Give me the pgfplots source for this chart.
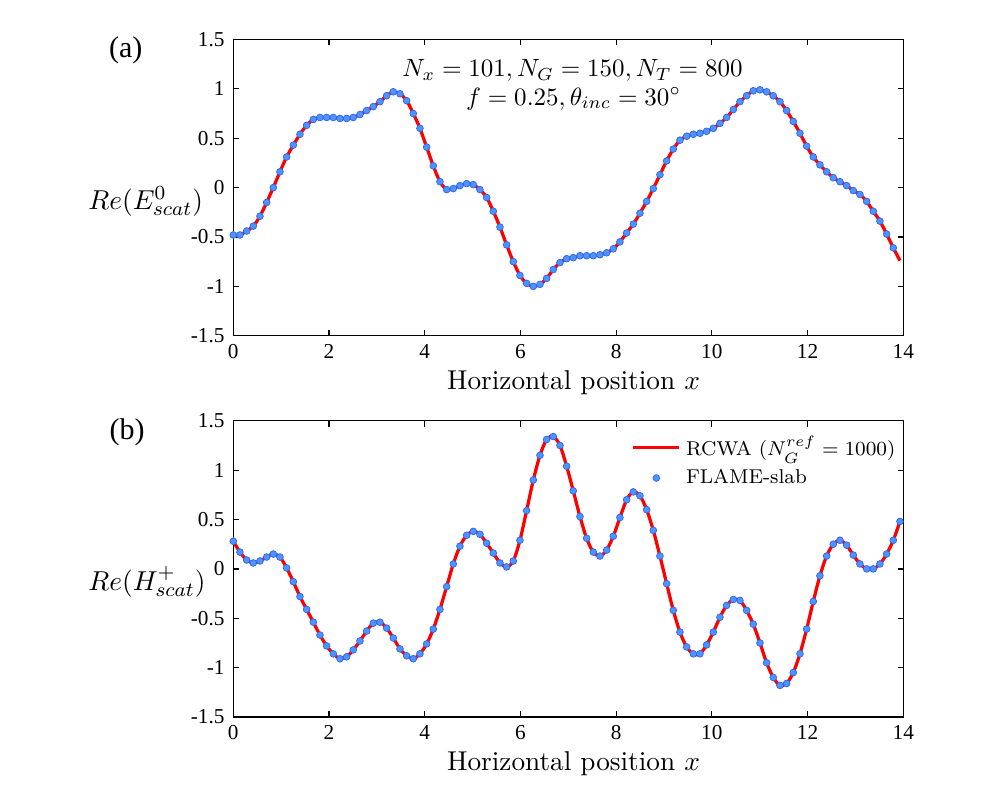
\documentclass[border=0pt]{standalone}
\usepackage{fontspec}
\usepackage{pgfplots}
\pgfplotsset{compat=1.18}
\usepackage{pgfplotstable}
\newfontfamily\timesfont{Liberation Serif}
\definecolor{dotfill}{RGB}{77,148,255}
\definecolor{dotdraw}{RGB}{51,102,240}

\pgfplotstableread{
x y
0.000 -0.48
0.139 -0.48
0.279 -0.44
0.418 -0.39
0.557 -0.29
0.697 -0.15
0.836 0.00
0.975 0.16
1.114 0.31
1.254 0.43
1.393 0.54
1.532 0.63
1.672 0.69
1.811 0.71
1.950 0.71
2.090 0.71
2.229 0.70
2.368 0.70
2.507 0.71
2.647 0.74
2.786 0.78
2.925 0.82
3.065 0.87
3.204 0.93
3.343 0.97
3.483 0.95
3.622 0.88
3.761 0.75
3.900 0.60
4.040 0.41
4.179 0.22
4.318 0.06
4.458 -0.02
4.597 -0.01
4.736 0.02
4.876 0.04
5.015 0.03
5.154 -0.02
5.293 -0.10
5.433 -0.24
5.572 -0.40
5.711 -0.58
5.851 -0.75
5.990 -0.89
6.129 -0.97
6.269 -1.00
6.408 -0.98
6.547 -0.92
6.686 -0.83
6.826 -0.76
6.965 -0.72
7.104 -0.71
7.244 -0.69
7.383 -0.69
7.522 -0.69
7.662 -0.68
7.801 -0.66
7.940 -0.62
8.079 -0.55
8.219 -0.46
8.358 -0.37
8.497 -0.26
8.637 -0.14
8.776 -0.01
8.915 0.13
9.055 0.27
9.194 0.39
9.333 0.48
9.472 0.52
9.612 0.54
9.751 0.55
9.890 0.57
10.030 0.60
10.169 0.65
10.308 0.71
10.448 0.79
10.587 0.87
10.726 0.93
10.865 0.98
11.005 0.99
11.144 0.97
11.283 0.93
11.423 0.87
11.562 0.78
11.701 0.67
11.841 0.55
11.980 0.42
12.119 0.31
12.258 0.23
12.398 0.16
12.537 0.10
12.676 0.06
12.816 0.02
12.955 -0.03
13.094 -0.07
13.234 -0.14
13.373 -0.24
13.512 -0.34
13.651 -0.47
13.791 -0.61
13.930 -0.74
}\toptable

\pgfplotstableread{
x y
0.000 0.28
0.139 0.17
0.279 0.09
0.418 0.06
0.557 0.08
0.697 0.12
0.836 0.15
0.975 0.12
1.114 0.01
1.254 -0.13
1.393 -0.28
1.532 -0.41
1.672 -0.54
1.811 -0.67
1.950 -0.78
2.090 -0.86
2.229 -0.91
2.368 -0.89
2.507 -0.82
2.647 -0.73
2.786 -0.63
2.925 -0.55
3.065 -0.54
3.204 -0.60
3.343 -0.70
3.483 -0.81
3.622 -0.88
3.761 -0.91
3.900 -0.86
4.040 -0.76
4.179 -0.61
4.318 -0.41
4.458 -0.18
4.597 0.05
4.736 0.23
4.876 0.34
5.015 0.38
5.154 0.35
5.293 0.26
5.433 0.16
5.572 0.06
5.711 0.02
5.851 0.08
5.990 0.29
6.129 0.59
6.269 0.90
6.408 1.15
6.547 1.31
6.686 1.34
6.826 1.25
6.965 1.04
7.104 0.79
7.244 0.53
7.383 0.31
7.522 0.17
7.662 0.13
7.801 0.19
7.940 0.33
8.079 0.52
8.219 0.70
8.358 0.78
8.497 0.74
8.637 0.60
8.776 0.39
8.915 0.13
9.055 -0.15
9.194 -0.42
9.333 -0.64
9.472 -0.79
9.612 -0.86
9.751 -0.86
9.890 -0.77
10.030 -0.64
10.169 -0.49
10.308 -0.37
10.448 -0.31
10.587 -0.32
10.726 -0.42
10.865 -0.56
11.005 -0.75
11.144 -0.95
11.283 -1.10
11.423 -1.18
11.562 -1.16
11.701 -1.05
11.841 -0.86
11.980 -0.61
12.119 -0.33
12.258 -0.07
12.398 0.13
12.537 0.25
12.676 0.29
12.816 0.24
12.955 0.14
13.094 0.05
13.234 0.00
13.373 0.00
13.512 0.05
13.651 0.15
13.791 0.29
13.930 0.48
}\bottable

\pgfplotsset{
  lineleg/.style={legend image code/.code={\draw[##1] (0cm,0cm) -- (0.65cm,0cm);}},
  dotleg/.style={legend image code/.code={\draw[##1] plot coordinates {(0.325cm,0cm)};}},
  myax/.style={
  scale only axis, width=268pt, height=118.5pt,
  xmin=0, xmax=14, ymin=-1.5, ymax=1.5,
  xtick={0,2,...,14}, ytick={-1.5,-1,-0.5,0,0.5,1,1.5},
  tick align=inside, major tick length=2.3pt,
  xtick pos=both, ytick pos=both,
  xticklabel pos=bottom, yticklabel pos=left,
  ticklabel style={font=\timesfont\fontsize{8.5}{10}\selectfont},
  /pgf/number format/assume math mode=true,
  axis line style={line width=0.5pt, black},
  every tick/.style={black, line width=0.5pt},
  },
  redline/.style={red, line width=1.3pt, smooth, no markers},
  bluedots/.style={only marks, mark=*, mark size=1.35pt,
     mark options={fill=dotfill, draw=dotdraw, line width=0.3pt}},
}

\begin{document}
\begin{tikzpicture}
\path (0,0) rectangle (400pt,-324pt);

\begin{axis}[myax, at={(93.32pt,-134.28pt)}, anchor=south west]
\addplot[redline] table[x=x,y=y] {\toptable};
\addplot[bluedots, skip coords between index={100}{101}] table[x=x,y=y] {\toptable};
\end{axis}

\begin{axis}[myax, at={(93.32pt,-286.8pt)}, anchor=south west,
  legend style={at={(rel axis cs:1,1)}, anchor=north east, yshift=-2.8pt,
    draw=none, fill=none,
    font=\fontsize{8}{9.6}\selectfont, row sep=-0.3pt, inner sep=1pt},
  legend cell align=left]
\addplot[redline, lineleg] table[x=x,y=y] {\bottable};
\addlegendentry{RCWA ($N_G^{ref}=1000$)}
\addplot[bluedots, dotleg] table[x=x,y=y] {\bottable};
\addlegendentry{FLAME-slab}
\end{axis}

% panel letters
\node[font=\timesfont\fontsize{12}{14}\selectfont] at (50.3pt,-20pt) {(a)};
\node[font=\timesfont\fontsize{12}{14}\selectfont] at (50.8pt,-172.8pt) {(b)};
% y labels
\node[anchor=base west, inner sep=0pt, font=\fontsize{11}{13}\selectfont] at (35.2pt,-83.6pt) {$Re(E^0_{scat})$};
\node[anchor=base west, inner sep=0pt, font=\fontsize{11}{13}\selectfont] at (35.2pt,-236pt) {$Re(H^+_{scat})$};
% x labels
\node[anchor=base, inner sep=0pt, font=\fontsize{10.9}{13}\selectfont] at (229.4pt,-155.6pt) {Horizontal position $x$};
\node[anchor=base, inner sep=0pt, font=\fontsize{10.9}{13}\selectfont] at (229.4pt,-308.1pt) {Horizontal position $x$};
% annotation
\node[anchor=base, inner sep=0pt, font=\fontsize{9.7}{12}\selectfont] at (229pt,-30.7pt) {$N_x=101, N_G=150, N_T=800$};
\node[anchor=base, inner sep=0pt, font=\fontsize{9.7}{12}\selectfont] at (229.4pt,-42pt) {$f=0.25, \theta_{inc}=30^\circ$};
\end{tikzpicture}
\end{document}
